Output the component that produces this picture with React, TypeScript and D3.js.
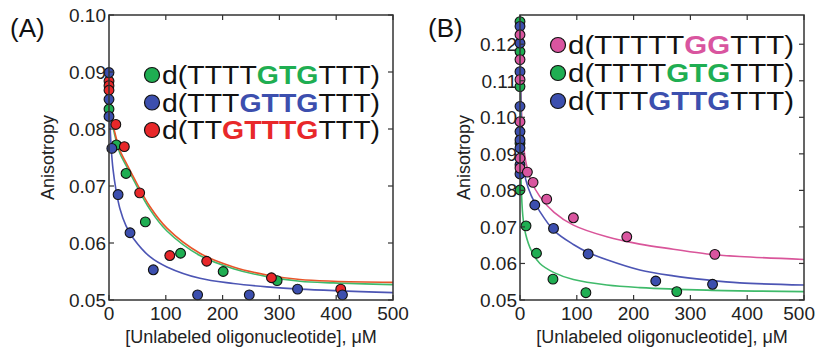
import React from "react";
import * as d3 from "d3";

// ---------- Panel A data ----------
const aGreenX = [0, 13, 30, 64, 126, 201, 296];
const aGreenY = [0.0835, 0.0772, 0.0722, 0.0637, 0.0582, 0.055, 0.0534];
const aRedX = [0, 0, 0, 12, 27, 54, 107, 172, 286, 408];
const aRedY = [0.0884, 0.0876, 0.0868, 0.0808, 0.0769, 0.0688, 0.0578, 0.0568, 0.0539, 0.0519];
const aBlueX = [0, 0, 0, 5, 16, 37, 78, 156, 247, 332, 411];
const aBlueY = [0.0899, 0.0852, 0.0822, 0.0766, 0.0685, 0.0618, 0.0553, 0.0509, 0.0509, 0.0519, 0.0509];

const aRedFitX = [0, 1, 3, 6, 10, 19, 30, 43, 72, 102, 160, 219, 278, 336, 395, 500];
const aRedFitY = [0.0895, 0.087, 0.084, 0.0815, 0.0795, 0.0763, 0.0741, 0.0716, 0.0664, 0.0626, 0.0582, 0.0558, 0.0544, 0.0536, 0.0533, 0.0531];
const aGreenFitX = [0, 1, 3, 6, 10, 19, 30, 43, 72, 102, 160, 219, 278, 336, 395, 500];
const aGreenFitY = [0.089, 0.0865, 0.0835, 0.081, 0.079, 0.0758, 0.0736, 0.0711, 0.0659, 0.0621, 0.0578, 0.0555, 0.0541, 0.0533, 0.053, 0.0527];
const aBlueFitX = [0, 1, 2, 4, 7, 12, 19, 30, 43, 72, 102, 160, 219, 278, 336, 500];
const aBlueFitY = [0.09, 0.084, 0.0805, 0.0765, 0.073, 0.0695, 0.0661, 0.063, 0.0608, 0.0576, 0.0558, 0.0538, 0.0529, 0.0523, 0.0519, 0.0513];

// ---------- Panel B data ----------
const bPinkX = [0, 0, 0, 0, 0, 0, 13, 23, 47, 94, 188, 343];
const bPinkY = [0.1226, 0.1158, 0.1103, 0.0988, 0.0888, 0.0861, 0.085, 0.0822, 0.0776, 0.0725, 0.0673, 0.0625];
const bGreenX = [0, 0, 0, 0, 0, 10.6, 29, 58, 116, 276];
const bGreenY = [0.1262, 0.118, 0.1084, 0.0929, 0.0801, 0.0703, 0.0628, 0.0557, 0.052, 0.0523];
const bBlueX = [0, 0, 0, 0, 0, 0, 0, 0, 0, 26, 59, 120, 239, 339];
const bBlueY = [0.1249, 0.1203, 0.1125, 0.103, 0.0961, 0.0938, 0.0916, 0.087, 0.0845, 0.076, 0.0696, 0.0626, 0.0552, 0.0543];

const bPinkFitX = [0, 2, 5, 10, 20, 35, 60, 94, 153, 211, 270, 329, 387, 500];
const bPinkFitY = [0.128, 0.105, 0.095, 0.088, 0.0825, 0.0783, 0.074, 0.0705, 0.0673, 0.0653, 0.0639, 0.0626, 0.0619, 0.0611];
const bBlueFitX = [0, 2, 5, 10, 20, 35, 60, 94, 120, 153, 211, 270, 329, 387, 500];
const bBlueFitY = [0.128, 0.1, 0.09, 0.083, 0.0785, 0.0742, 0.069, 0.0652, 0.063, 0.061, 0.0582, 0.0566, 0.0555, 0.0547, 0.0541];
const bGreenFitX = [0, 1, 2, 5, 10, 20, 35, 60, 94, 153, 211, 329, 500];
const bGreenFitY = [0.128, 0.095, 0.082, 0.073, 0.068, 0.0635, 0.06, 0.0575, 0.0556, 0.0541, 0.0534, 0.0527, 0.0523];

// ---------- ticks / labels ----------
const xTicks = [0, 100, 200, 300, 400, 500];
const aYTicks = [0.05, 0.06, 0.07, 0.08, 0.09, 0.1];
const bYTicks = [0.05, 0.06, 0.07, 0.08, 0.09, 0.1, 0.11, 0.12];
const aYLabels = ["0.05", "0.06", "0.07", "0.08", "0.09", "0.10"];
const bYLabels = ["0.05", "0.06", "0.07", "0.08", "0.09", "0.10", "0.11", "0.12"];
const xLabel = "[Unlabeled oligonucleotide], \u03bcM";
const yLabel = "Anisotropy";

const GREEN = "#1fae52";
const BLUE = "#3c4fae";
const RED = "#e8282a";
const PINK = "#d9559f";
const GREEN_LINE = "#3fba6a";
const BLUE_LINE = "#4c55b4";
const RED_LINE = "#e8552a";
const PINK_LINE = "#d9559a";

type Seg = { t: string; c: string };
const aLegend: { color: string; segs: Seg[] }[] = [
  { color: GREEN, segs: [{ t: "d(TTTT", c: "#111" }, { t: "GTG", c: GREEN }, { t: "TTT)", c: "#111" }] },
  { color: BLUE, segs: [{ t: "d(TTT", c: "#111" }, { t: "GTTG", c: BLUE }, { t: "TTT)", c: "#111" }] },
  { color: RED, segs: [{ t: "d(TT", c: "#111" }, { t: "GTTTG", c: RED }, { t: "TTT)", c: "#111" }] },
];
const bLegend: { color: string; segs: Seg[] }[] = [
  { color: PINK, segs: [{ t: "d(TTTTT", c: "#111" }, { t: "GG", c: PINK }, { t: "TTT)", c: "#111" }] },
  { color: GREEN, segs: [{ t: "d(TTTT", c: "#111" }, { t: "GTG", c: GREEN }, { t: "TTT)", c: "#111" }] },
  { color: BLUE, segs: [{ t: "d(TTT", c: "#111" }, { t: "GTTG", c: BLUE }, { t: "TTT)", c: "#111" }] },
];

const FONT = "'Liberation Sans', Arial, Helvetica, sans-serif";

type Panel = {
  id: string;
  left: number;
  right: number;
  top: number;
  bottom: number;
  yDomain: [number, number];
  yTicks: number[];
  yLabels: string[];
  tag: string;
  tagX: number;
  yLabelX: number;
  fits: { xs: number[]; ys: number[]; color: string }[];
  pts: { xs: number[]; ys: number[]; color: string }[];
  legend: { color: string; segs: Seg[] }[];
  legX: number;
  legY0: number;
  legDy: number;
  legTextLen: number;
};

const panels: Panel[] = [
  {
    id: "A",
    left: 109,
    right: 393,
    top: 15,
    bottom: 300,
    yDomain: [0.05, 0.1],
    yTicks: aYTicks,
    yLabels: aYLabels,
    tag: "(A)",
    tagX: 10,
    yLabelX: 54,
    fits: [
      { xs: aGreenFitX, ys: aGreenFitY, color: GREEN_LINE },
      { xs: aRedFitX, ys: aRedFitY, color: RED_LINE },
      { xs: aBlueFitX, ys: aBlueFitY, color: BLUE_LINE },
    ],
    pts: [
      { xs: aGreenX, ys: aGreenY, color: GREEN },
      { xs: aRedX, ys: aRedY, color: RED },
      { xs: aBlueX, ys: aBlueY, color: BLUE },
    ],
    legend: aLegend,
    legX: 152,
    legY0: 75,
    legDy: 27.5,
    legTextLen: 218,
  },
  {
    id: "B",
    left: 520,
    right: 804,
    top: 15,
    bottom: 300,
    yDomain: [0.05, 0.128],
    yTicks: bYTicks,
    yLabels: bYLabels,
    tag: "(B)",
    tagX: 428,
    yLabelX: 470,
    fits: [
      { xs: bPinkFitX, ys: bPinkFitY, color: PINK_LINE },
      { xs: bBlueFitX, ys: bBlueFitY, color: BLUE_LINE },
      { xs: bGreenFitX, ys: bGreenFitY, color: GREEN_LINE },
    ],
    pts: [
      { xs: bGreenX, ys: bGreenY, color: GREEN },
      { xs: bBlueX, ys: bBlueY, color: BLUE },
      { xs: bPinkX, ys: bPinkY, color: PINK },
    ],
    legend: bLegend,
    legX: 558,
    legY0: 45,
    legDy: 28,
    legTextLen: 226,
  },
];

function PanelView({ p }: { p: Panel }) {
  const x = d3.scaleLinear().domain([0, 500]).range([p.left, p.right]);
  const y = d3.scaleLinear().domain(p.yDomain).range([p.bottom, p.top]);
  const line = d3
    .line<[number, number]>()
    .x((d) => x(d[0]))
    .y((d) => y(d[1]))
    .curve(d3.curveCatmullRom.alpha(0.5));
  const tl = 5;
  const axisColor = "#333";
  const clipId = "clip" + p.id;
  const cx = (p.left + p.right) / 2;
  const cy = (p.top + p.bottom) / 2;
  return (
    <g>
      <defs>
        <clipPath id={clipId}>
          <rect x={p.left} y={p.top} width={p.right - p.left} height={p.bottom - p.top} />
        </clipPath>
      </defs>
      <text x={p.tagX} y={37} fontSize={26} fontFamily={FONT} fill="#111">
        {p.tag}
      </text>
      {/* legend */}
      {p.legend.map((l, i) => (
        <g key={i}>
          <circle cx={p.legX} cy={p.legY0 + i * p.legDy} r={7.5} fill={l.color} stroke="#111" strokeWidth={1.2} />
          <text
            x={p.legX + 10}
            y={p.legY0 + i * p.legDy + 9}
            fontSize={26}
            fontFamily={FONT}
            textLength={p.legTextLen}
            lengthAdjust="spacingAndGlyphs"
          >
            {l.segs.map((s, j) => (
              <tspan key={j} fill={s.c} fontWeight={s.c === "#111" ? "normal" : "bold"}>
                {s.t}
              </tspan>
            ))}
          </text>
        </g>
      ))}
      {/* fits */}
      <g clipPath={`url(#${clipId})`}>
        {p.fits.map((f, i) => (
          <path
            key={i}
            d={line(f.xs.map((v, k) => [v, f.ys[k]] as [number, number])) || ""}
            fill="none"
            stroke={f.color}
            strokeWidth={1.6}
          />
        ))}
      </g>
      {/* points */}
      {p.pts.map((s, i) => (
        <g key={i}>
          {s.xs.map((v, k) => (
            <circle key={k} cx={x(v)} cy={y(s.ys[k])} r={4.9} fill={s.color} stroke="#111" strokeWidth={1.1} />
          ))}
        </g>
      ))}
      {/* frame */}
      <rect
        x={p.left}
        y={p.top}
        width={p.right - p.left}
        height={p.bottom - p.top}
        fill="none"
        stroke={axisColor}
        strokeWidth={1.5}
      />
      {/* x ticks */}
      {xTicks.map((t) => {
        const overflow = x(t) + 17 > 816;
        return (
          <g key={"x" + t}>
            <line x1={x(t)} x2={x(t)} y1={p.bottom} y2={p.bottom - tl} stroke={axisColor} strokeWidth={1.2} />
            <line x1={x(t)} x2={x(t)} y1={p.top} y2={p.top + tl} stroke={axisColor} strokeWidth={1.2} />
            <text
              x={overflow ? 815 : x(t)}
              y={p.bottom + 20}
              textAnchor={overflow ? "end" : "middle"}
              fontSize={19}
              fontFamily={FONT}
              fill="#222"
            >
              {String(t)}
            </text>
          </g>
        );
      })}
      {/* y ticks */}
      {p.yTicks.map((t, i) => (
        <g key={"y" + t}>
          <line x1={p.left} x2={p.left + tl} y1={y(t)} y2={y(t)} stroke={axisColor} strokeWidth={1.2} />
          <line x1={p.right} x2={p.right - tl} y1={y(t)} y2={y(t)} stroke={axisColor} strokeWidth={1.2} />
          <text x={p.left - 3} y={y(t) + 7} textAnchor="end" fontSize={19} fontFamily={FONT} fill="#222">
            {p.yLabels[i]}
          </text>
        </g>
      ))}
      <text x={cx} y={343} textAnchor="middle" fontSize={18} fontFamily={FONT} fill="#222">
        {xLabel}
      </text>
      <text
        transform={`translate(${p.yLabelX},${cy}) rotate(-90)`}
        textAnchor="middle"
        fontSize={18}
        fontFamily={FONT}
        fill="#222"
      >
        {yLabel}
      </text>
    </g>
  );
}

export default function App() {
  return (
    <svg
      width={816}
      height={351}
      viewBox="0 0 816 351"
      style={{ position: "absolute", left: 0, top: 0, background: "#fff" }}
    >
      <rect x={0} y={0} width={816} height={351} fill="#fff" />
      {panels.map((p) => (
        <PanelView key={p.id} p={p} />
      ))}
    </svg>
  );
}
